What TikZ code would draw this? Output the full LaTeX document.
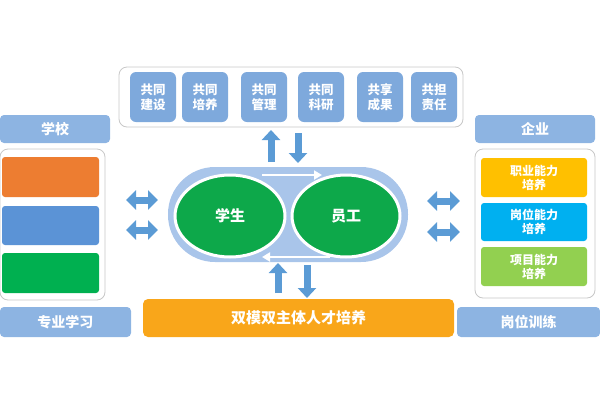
\documentclass[tikz,border=0pt]{standalone}
\usepackage{fontspec}
\setmainfont{Noto Sans CJK SC}
\usetikzlibrary{arrows.meta,positioning,shapes.geometric}
\definecolor{cob}{HTML}{7EA9DC}
\definecolor{tagb}{HTML}{8DB4E2}
\definecolor{arb}{HTML}{5B9BD5}
\definecolor{ringb}{HTML}{A9C5EA}
\definecolor{frm}{HTML}{C8C8C8}
\definecolor{egreen}{HTML}{0DA84A}
\definecolor{sorange}{HTML}{ED7D31}
\definecolor{sblue}{HTML}{5B93D6}
\definecolor{sgreen}{HTML}{00B050}
\definecolor{eyellow}{HTML}{FFC000}
\definecolor{ecyan}{HTML}{00B0F0}
\definecolor{elgreen}{HTML}{92D050}
\definecolor{banner}{HTML}{F9A61A}
\tikzset{
  cobox/.style={fill=cob,rounded corners=6pt,minimum width=46pt,minimum height=50pt,inner sep=0pt,
    text=white,align=center,font=\bfseries\fontsize{12.5}{15}\selectfont},
  tag/.style={fill=tagb,rounded corners=4pt,inner sep=0pt,text=white,font=\bfseries\fontsize{14}{16}\selectfont},
  frame/.style={draw=frm,fill=white,rounded corners=8pt,line width=0.8pt,inner sep=0pt},
  sbox/.style={rounded corners=3pt,inner sep=0pt,text=white,align=center,font=\bfseries\fontsize{12}{14}\selectfont},
  role/.style={ellipse,fill=egreen,draw=white,line width=3pt,inner sep=0pt,minimum height=82pt,
    text=white,font=\bfseries\fontsize{15}{17}\selectfont},
  blk/.style={draw=arb,line width=7pt,-{Triangle[length=10pt,width=18pt]}},
  dblk/.style={draw=arb,line width=7pt,{Triangle[length=10pt,width=19pt]}-{Triangle[length=10pt,width=19pt]}},
  wr/.style={draw=white,line width=2.5pt,-{Triangle[length=8pt,width=9pt]}},
}
\begin{document}
\begin{tikzpicture}[x=1pt,y=-1pt]
  \useasboundingbox (0,0) rectangle (600,400);

  % top: joint tasks
  \node[frame,minimum width=344pt,minimum height=60pt] (top) at (291,97) {};
  \node[cobox] (c1) at (153,97) {共同\\建设};
  \node[cobox] (c2) at (205,97) {共同\\培养};
  \node[cobox] (c3) at (264,97) {共同\\管理};
  \node[cobox] (c4) at (321,97) {共同\\科研};
  \node[cobox] (c5) at (380,97) {共享\\成果};
  \node[cobox] (c6) at (434,97) {共担\\责任};

  % school side
  \node[tag,minimum width=110pt,minimum height=28pt] (school) at (55,129) {学校};
  \node[frame,minimum width=105pt,minimum height=151pt] (sfrm) at (52.5,224.5) {};
  \node[sbox,fill=sorange,minimum width=97pt,minimum height=40pt] (s1) at (50.5,177) {};
  \node[sbox,fill=sblue,minimum width=97pt,minimum height=39pt] (s2) at (50.5,225.5) {};
  \node[sbox,fill=sgreen,minimum width=97pt,minimum height=40pt] (s3) at (50.5,273) {};
  \node[tag,minimum width=131pt,minimum height=30pt] (study) at (65.5,322) {专业学习};

  % enterprise side
  \node[tag,minimum width=120pt,minimum height=28pt] (firm) at (535,129) {企业};
  \node[frame,minimum width=120pt,minimum height=149pt] (efrm) at (535,223.5) {};
  \node[sbox,fill=eyellow,minimum width=106pt,minimum height=39pt] (e1) at (534,177.5) {职业能力\\培养};
  \node[sbox,fill=ecyan,minimum width=106pt,minimum height=38pt] (e2) at (534,222) {岗位能力\\培养};
  \node[sbox,fill=elgreen,minimum width=106pt,minimum height=39pt] (e3) at (534,266.5) {项目能力\\培养};
  \node[tag,minimum width=143pt,minimum height=30pt] (train) at (528.5,322) {岗位训练};

  % centre loop
  \node[fill=ringb,rounded corners=47pt,minimum width=240pt,minimum height=95pt,inner sep=0pt] (loop) at (288,214.5) {};
  \node[role,minimum width=110pt] (stu) at (230,216) {学生};
  \node[role,minimum width=108pt] (emp) at (346,216) {员工};
  \coordinate (wt1) at (262,175);
  \coordinate (wt2) at (322,175);
  \coordinate (wb1) at (330,257);
  \coordinate (wb2) at (262,257);
  \draw[wr] (wt1) -- (wt2);
  \draw[wr] (wb1) -- (wb2);

  % bottom banner
  \node[fill=banner,rounded corners=5pt,minimum width=311pt,minimum height=38pt,inner sep=0pt,
    text=white,font=\bfseries\fontsize{15}{17}\selectfont] (mode) at (298.5,318) {双模双主体人才培养};

  % block arrows
  \coordinate (tu1) at (271,162); \coordinate (tu2) at (271,130);
  \coordinate (td1) at (298,133); \coordinate (td2) at (298,163);
  \coordinate (bu1) at (278,293); \coordinate (bu2) at (278,263);
  \coordinate (bd1) at (307,265); \coordinate (bd2) at (307,298);
  \draw[blk] (tu1) -- (tu2);
  \draw[blk] (td1) -- (td2);
  \draw[blk] (bu1) -- (bu2);
  \draw[blk] (bd1) -- (bd2);
  \coordinate (l1a) at (126,200); \coordinate (l1b) at (158,200);
  \coordinate (l2a) at (126,230); \coordinate (l2b) at (158,230);
  \coordinate (r1a) at (427,201); \coordinate (r1b) at (460,201);
  \coordinate (r2a) at (427,232); \coordinate (r2b) at (460,232);
  \draw[dblk] (l1a) -- (l1b);
  \draw[dblk] (l2a) -- (l2b);
  \draw[dblk] (r1a) -- (r1b);
  \draw[dblk] (r2a) -- (r2b);
\end{tikzpicture}
\end{document}
